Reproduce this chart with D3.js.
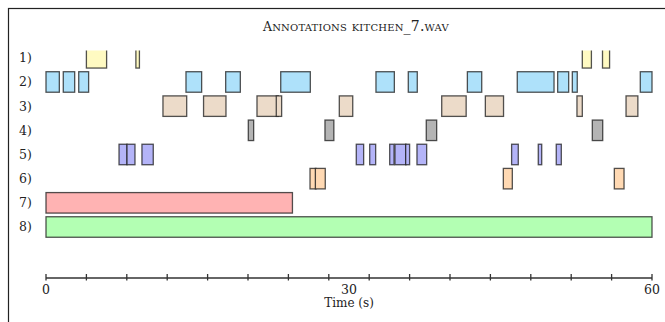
<!DOCTYPE html>
<html>
<head>
<meta charset="utf-8">
<script src="https://cdn.jsdelivr.net/npm/d3@7"></script>
<style>
  body { margin: 0; background: #fff; }
</style>
</head>
<body>
<div id="chart"></div>
<script>
const width = 665, height = 322;
const serif = "'DejaVu Serif', 'Liberation Serif', serif";

// row labels and colours
const rows = ["1)", "2)", "3)", "4)", "5)", "6)", "7)", "8)"];
const rowColors = ["#fffac2", "#aee1fa", "#ecdbc9", "#b4b4b4", "#b4b4f8", "#ffd9b3", "#ffb3b3", "#b3ffb3"];

// segments per row: [start, end] in seconds
const row1 = [[4.0, 6.0], [8.9, 9.25], [53.1, 54.0], [55.1, 55.8]];
const row2 = [[0, 1.32], [1.71, 2.84], [3.24, 4.22], [13.86, 15.41], [17.79, 19.24], [23.24, 26.17],
  [32.67, 34.49], [35.87, 36.76], [41.72, 43.14], [46.66, 50.3], [50.66, 51.75], [52.11, 52.6], [58.84, 60]];
const row3 = [[11.58, 13.93], [15.6, 17.82], [20.89, 23.0], [22.8, 23.33], [29.04, 30.37],
  [39.18, 41.6], [43.5, 45.3], [52.57, 53.1], [57.43, 58.6]];
const row4 = [[20.03, 20.56], [27.62, 28.5], [37.65, 38.68], [54.09, 55.12]];
const row5 = [[7.23, 8.02], [8.02, 8.81], [9.5, 10.62], [30.72, 31.45], [32.05, 32.64], [34.03, 34.46],
  [34.55, 35.64], [35.61, 36.0], [36.73, 37.69], [46.1, 46.76], [48.74, 49.08], [50.52, 51.02]];
const row6 = [[26.14, 26.73], [26.67, 27.65], [45.28, 46.17], [56.27, 57.23]];
const row7 = [[0, 24.4]];
const row8 = [[0, 60]];
const segments = [row1, row2, row3, row4, row5, row6, row7, row8];

const xTicks = d3.range(0, 61, 4);
const xLabels = [0, 30, 60];

const x = d3.scaleLinear().domain([0, 60]).range([46, 652]);
const y = d3.scaleLinear().domain([1, 8]).range([57.8, 227]);
const boxH = 20.5;

const svg = d3.select("#chart").append("svg")
  .attr("width", width)
  .attr("height", height)
  .style("display", "block");

// frame (only top/left visible)
svg.append("rect")
  .attr("x", 8.5).attr("y", 8.5)
  .attr("width", width).attr("height", height)
  .attr("fill", "none").attr("stroke", "#222").attr("stroke-width", 1.2);

// title in small caps: big initial, rest as synthesized small caps
const title = svg.append("text")
  .attr("x", 356).attr("y", 31)
  .attr("text-anchor", "middle")
  .attr("font-family", serif)
  .attr("fill", "#222");
title.append("tspan").attr("font-size", 12.5).text("A");
title.append("tspan").attr("font-size", 14).style("font-variant", "small-caps")
  .attr("letter-spacing", 0.2)
  .text("nnotations kitchen_7.wav");

svg.append("clipPath").attr("id", "plot")
  .append("rect").attr("x", 0).attr("y", 50.5).attr("width", width).attr("height", 230);

const g = svg.append("g").attr("clip-path", "url(#plot)");

segments.forEach((segs, i) => {
  g.append("g")
    .selectAll("rect")
    .data(segs)
    .join("rect")
    .attr("x", d => x(d[0]))
    .attr("y", y(i + 1) - boxH / 2)
    .attr("width", d => x(d[1]) - x(d[0]))
    .attr("height", boxH)
    .attr("fill", rowColors[i])
    .attr("stroke", "#1a1a1a")
    .attr("stroke-opacity", 0.75)
    .attr("stroke-width", 1.3);
});

svg.append("g")
  .selectAll("text")
  .data(rows)
  .join("text")
  .attr("x", 19)
  .attr("y", (d, i) => y(i + 1))
  .attr("dy", "0.35em")
  .attr("font-family", serif)
  .attr("font-size", 12.5)
  .attr("fill", "#222")
  .text(d => d);

// time axis
const axisY = 278;
const ax = svg.append("g").attr("stroke", "#333").attr("stroke-width", 1.3);
ax.append("line")
  .attr("x1", x(0)).attr("x2", x(60))
  .attr("y1", axisY).attr("y2", axisY);
ax.selectAll(".tick")
  .data(xTicks)
  .join("line")
  .attr("x1", d => x(d)).attr("x2", d => x(d))
  .attr("y1", axisY - 4).attr("y2", axisY + 2.5);

svg.append("g")
  .selectAll("text")
  .data(xLabels)
  .join("text")
  .attr("x", d => x(d))
  .attr("y", 294)
  .attr("text-anchor", "middle")
  .attr("font-family", serif)
  .attr("font-size", 12.5)
  .attr("fill", "#222")
  .text(d => d);

svg.append("text")
  .attr("x", x(30)).attr("y", 307)
  .attr("text-anchor", "middle")
  .attr("font-family", serif)
  .attr("font-size", 12)
  .attr("fill", "#222")
  .text("Time (s)");
</script>
</body>
</html>
